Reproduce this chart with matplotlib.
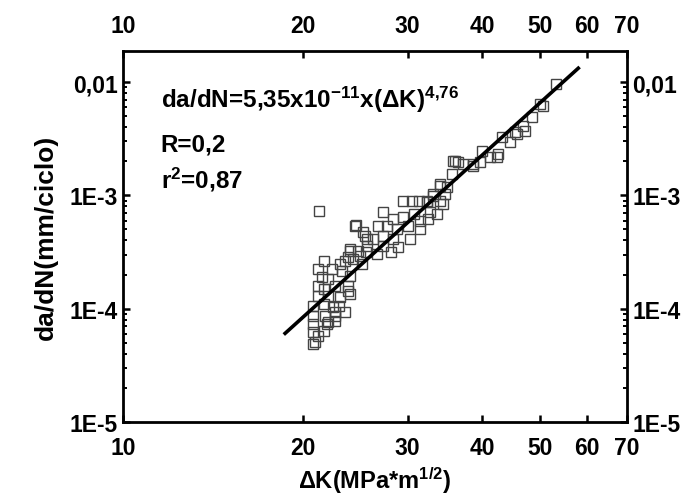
import matplotlib

matplotlib.use("Agg")
import matplotlib.pyplot as plt
import numpy as np
from matplotlib.ticker import FixedLocator, FixedFormatter, LogLocator, NullFormatter

plt.rcParams["font.family"] = ["Liberation Sans", "DejaVu Sans"]
plt.rcParams["font.weight"] = "bold"
plt.rcParams["mathtext.fontset"] = "custom"
plt.rcParams["mathtext.rm"] = "Liberation Sans:bold"
plt.rcParams["mathtext.bf"] = "Liberation Sans:bold"
plt.rcParams["mathtext.it"] = "Liberation Sans:bold"

# measured points: delta K (MPa*m^1/2) and da/dN (mm/ciclo)
dk = [21.3, 24.6, 25.3, 25.7, 24.0, 24.8, 25.6, 23.6, 24.3, 25.2,
      21.7, 21.2, 22.4, 23.1, 21.6, 22.1, 23.3, 24.0, 21.2, 21.7,
      22.7, 23.8, 21.2, 22.1, 23.1, 23.8, 20.8, 21.7, 22.5, 20.8,
      21.8, 22.7, 23.6, 20.8, 22.0, 22.7, 20.8, 21.2, 20.8, 21.7,
      21.0, 22.1, 22.7, 23.0, 24.0,
      35.8, 34.0, 35.0, 29.5, 30.5, 31.3, 32.4, 33.1, 34.0, 27.3,
      28.4, 29.5, 30.7, 32.7, 33.6, 24.5, 25.5, 26.8, 27.7, 28.8,
      30.1, 31.5, 32.5, 26.3, 27.3, 28.4, 30.3, 31.5, 24.0, 25.7,
      27.3, 28.9, 23.8, 25.0, 26.7, 28.1,
      53.3, 50.1, 50.7, 48.6, 46.9, 47.3, 45.5, 45.8, 43.2, 44.6,
      42.6, 42.4, 40.0, 41.3, 39.7, 36.1, 37.1, 38.7, 38.7, 36.5,
      35.6, 34.0, 34.7, 33.1, 32.4, 34.4]
dadn = [7.3e-4, 5.5e-4, 4.75e-4, 4.1e-4, 3.2e-4, 3.2e-4, 3.15e-4, 2.65e-4, 2.75e-4, 2.5e-4,
        2.65e-4, 2.25e-4, 2.25e-4, 2.5e-4, 1.9e-4, 1.83e-4, 2.15e-4, 1.95e-4, 1.58e-4, 1.49e-4,
        1.58e-4, 1.58e-4, 1.29e-4, 1.29e-4, 1.27e-4, 1.43e-4, 1.05e-4, 1.10e-4, 1.03e-4, 8.6e-5,
        8.6e-5, 9.35e-5, 9.35e-5, 7.3e-5, 7.3e-5, 7.8e-5, 6.2e-5, 5.75e-5, 4.9e-5, 6.35e-5,
        5.1e-5, 7.6e-5, 8.6e-5, 1.05e-4, 1.35e-4,
        2.0e-3, 1.26e-3, 1.19e-3, 8.9e-4, 8.9e-4, 8.9e-4, 8.9e-4, 1.03e-3, 8.9e-4, 7.1e-4,
        6.2e-4, 6.4e-4, 6.85e-4, 7.1e-4, 6.85e-4, 5.4e-4, 4.4e-4, 5.4e-4, 5.4e-4, 5.05e-4,
        5.4e-4, 5.9e-4, 6.2e-4, 4.1e-4, 4.4e-4, 4.1e-4, 4.1e-4, 5.05e-4, 3.35e-4, 3.6e-4,
        3.6e-4, 3.5e-4, 2.85e-4, 2.9e-4, 3.05e-4, 3.15e-4,
        9.6e-3, 6.4e-3, 6.15e-3, 4.9e-3, 4.1e-3, 3.7e-3, 3.6e-3, 3.5e-3, 3.3e-3, 2.95e-3,
        2.3e-3, 2.2e-3, 2.45e-3, 2.2e-3, 1.97e-3, 2.0e-3, 1.9e-3, 1.9e-3, 1.8e-3, 1.97e-3,
        1.55e-3, 1.21e-3, 1.03e-3, 9.9e-4, 8.7e-4, 8.4e-4]

# Paris law fit
C_FIT = 5.35e-11
M_FIT = 4.76
FIT_RANGE = [18.7, 58.0]

x_ticks = [10, 20, 30, 40, 50, 60, 70]
x_labels = ["10", "20", "30", "40", "50", "60", "70"]
y_ticks = [1e-5, 1e-4, 1e-3, 1e-2]
y_labels = ["1E-5", "1E-4", "1E-3", "0,01"]

fig = plt.figure(figsize=(7.0, 5.02), dpi=100)
ax = fig.add_axes([0.1757, 0.1574, 0.72, 0.739])
ax.set_xscale("log")
ax.set_yscale("log")
ax.set_xlim(10, 70)
ax.set_ylim(1e-5, 0.0188)

ax.plot(dk, dadn, ls="none", marker="s", ms=7, mfc="none", mec="#444444", mew=1.0)

xf = np.geomspace(FIT_RANGE[0], FIT_RANGE[1], 50)
ax.plot(xf, C_FIT * xf ** M_FIT, color="black", lw=2.6)

ax.xaxis.set_major_locator(FixedLocator(x_ticks))
ax.xaxis.set_major_formatter(FixedFormatter(x_labels))
ax.xaxis.set_minor_locator(FixedLocator([]))
ax.xaxis.set_minor_formatter(NullFormatter())
ax.yaxis.set_major_locator(FixedLocator(y_ticks))
ax.yaxis.set_major_formatter(FixedFormatter(y_labels))
ax.yaxis.set_minor_locator(LogLocator(base=10, subs=np.arange(2, 10)))
ax.yaxis.set_minor_formatter(NullFormatter())

ax.tick_params(which="both", direction="in", top=True, right=True,
               labeltop=True, labelright=True, width=1.8, labelsize=16.5)
ax.tick_params(axis="x", which="major", pad=10)
ax.tick_params(axis="y", which="major", pad=4)
ax.tick_params(which="major", length=5)
ax.tick_params(which="minor", length=3, width=1.4)
for lab in ax.get_xticklabels() + ax.get_yticklabels():
    lab.set_fontweight("bold")
for sp in ax.spines.values():
    sp.set_linewidth(2.0)

ax.set_xlabel(r"ΔK(MPa*m$^{\mathbf{1/2}}$)", fontsize=17, fontweight="bold", labelpad=4)
ax.set_ylabel("da/dN(mm/ciclo)", fontsize=19, fontweight="bold", labelpad=8)

ax.text(0.075, 0.87, r"da/dN=5,35x10$^{\mathbf{-11}}$x(ΔK)$^{\mathbf{4{,}76}}$",
        transform=ax.transAxes, fontsize=17.5, fontweight="bold", va="center")
ax.text(0.075, 0.75, "R=0,2", transform=ax.transAxes, fontsize=17.5,
        fontweight="bold", va="center")
ax.text(0.075, 0.655, r"r$^{\mathbf{2}}$=0,87", transform=ax.transAxes, fontsize=17.5,
        fontweight="bold", va="center")

fig.savefig("out.png", dpi=100, facecolor="white")
